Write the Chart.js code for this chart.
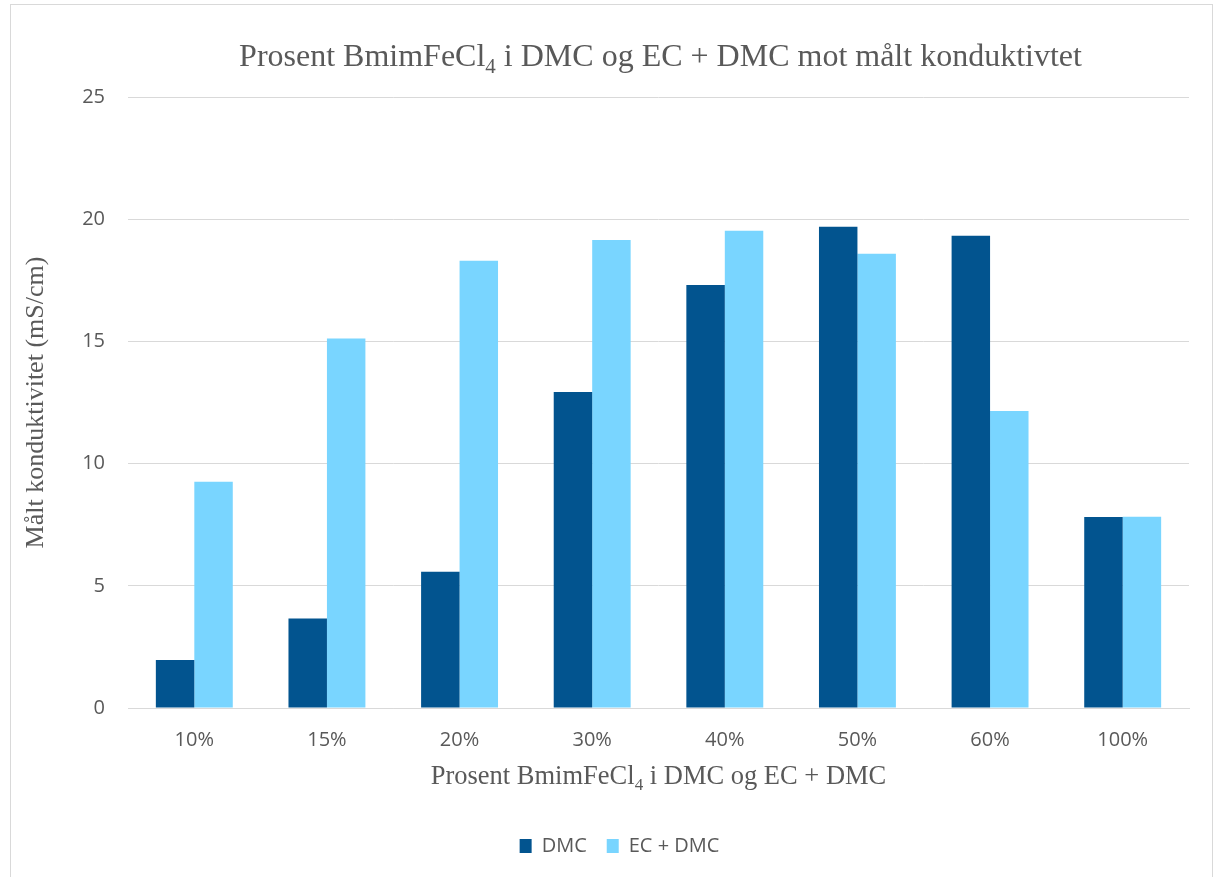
<!DOCTYPE html>
<html lang="no">
<head>
<meta charset="utf-8">
<title>Konduktivitet BmimFeCl4</title>
<script src="https://cdn.jsdelivr.net/npm/chart.js@4.4.0/dist/chart.umd.min.js"></script>
<style>
  html, body { margin: 0; padding: 0; background: #ffffff; overflow: hidden; }
  #frame { position: absolute; left: 10px; top: 4px; width: 1203px; height: 900px; border: 1px solid #d9d9d9; box-sizing: border-box; }
  #wrap { position: absolute; left: 0; top: 0; width: 1215px; height: 877px; }
</style>
</head>
<body>
<div id="frame"></div>
<div id="wrap"><canvas id="chart"></canvas></div>
<script>
// andel BmimFeCl4 i løsemiddel
var categories = ["10%", "15%", "20%", "30%", "40%", "50%", "60%", "100%"];
// målt konduktivitet, mS/cm
var dmc = [1.96, 3.66, 5.57, 12.93, 17.31, 19.69, 19.32, 7.82];
var ecDmc = [9.26, 15.12, 18.30, 19.15, 19.53, 18.59, 12.15, 7.83];
var yTicks = [0, 5, 10, 15, 20, 25];

var grey = "#595959";
var serif = "'Liberation Serif', 'Times New Roman', serif";

// tekst med senket "4" i BmimFeCl4
function drawSubText(ctx, parts, cx, y, size) {
  var subSize = Math.round(size * 0.65);
  var total = 0;
  parts.forEach(function (p) {
    ctx.font = (p.sub ? subSize : size) + "px " + serif;
    total += ctx.measureText(p.t).width;
  });
  var x = cx - total / 2;
  parts.forEach(function (p) {
    ctx.font = (p.sub ? subSize : size) + "px " + serif;
    ctx.fillText(p.t, x, p.sub ? y + size * 0.22 : y);
    x += ctx.measureText(p.t).width;
  });
}

var titles = {
  id: "titles",
  afterDraw: function (chart) {
    var ctx = chart.ctx, area = chart.chartArea;
    var cx = (area.left + area.right) / 2;
    ctx.save();
    ctx.fillStyle = grey;
    ctx.textBaseline = "alphabetic";
    ctx.textAlign = "left";
    drawSubText(ctx, [
      {t: "Prosent BmimFeCl"}, {t: "4", sub: true},
      {t: " i DMC og EC + DMC mot målt konduktivtet"}
    ], cx + 2, 66, 32);
    drawSubText(ctx, [
      {t: "Prosent BmimFeCl"}, {t: "4", sub: true},
      {t: " i DMC og EC + DMC"}
    ], cx, 784, 26.5);
    ctx.translate(43, (area.top + area.bottom) / 2);
    ctx.rotate(-Math.PI / 2);
    ctx.textAlign = "center";
    ctx.font = "26px " + serif;
    ctx.fillText("Målt konduktivitet (mS/cm)", 0, 0);
    ctx.restore();
  }
};

new Chart(document.getElementById("chart"), {
  type: "bar",
  data: {
    labels: categories,
    datasets: [
      { label: "DMC", data: dmc, backgroundColor: "#02548f" },
      { label: "EC + DMC", data: ecDmc, backgroundColor: "#79d5ff" }
    ]
  },
  options: {
    responsive: true,
    maintainAspectRatio: false,
    animation: false,
    layout: { padding: { left: 50, right: 26, top: 97, bottom: 11 } },
    datasets: { bar: { categoryPercentage: 0.58, barPercentage: 1.0 } },
    plugins: {
      title: { display: false },
      tooltip: { enabled: false },
      legend: {
        position: "bottom",
        labels: {
          boxWidth: 12, boxHeight: 14, padding: 20,
          color: grey, font: { family: "'Open Sans'", size: 20 }
        }
      }
    },
    scales: {
      x: {
        grid: { display: false, drawTicks: false },
        border: { color: "#d9d9d9", width: 1 },
        ticks: { color: grey, padding: 20, font: { family: "'Open Sans'", size: 20 } },
        afterFit: function (s) { s.height = 108; }
      },
      y: {
        min: 0, max: 25,
        afterBuildTicks: function (s) { s.ticks = yTicks.map(function (v) { return { value: v }; }); },
        grid: { color: "#d9d9d9", drawTicks: false },
        border: { display: false },
        ticks: { color: grey, padding: 23, font: { family: "'Open Sans'", size: 20 } },
        afterFit: function (s) { s.width = 78; }
      }
    }
  },
  plugins: [titles]
});
</script>
</body>
</html>
